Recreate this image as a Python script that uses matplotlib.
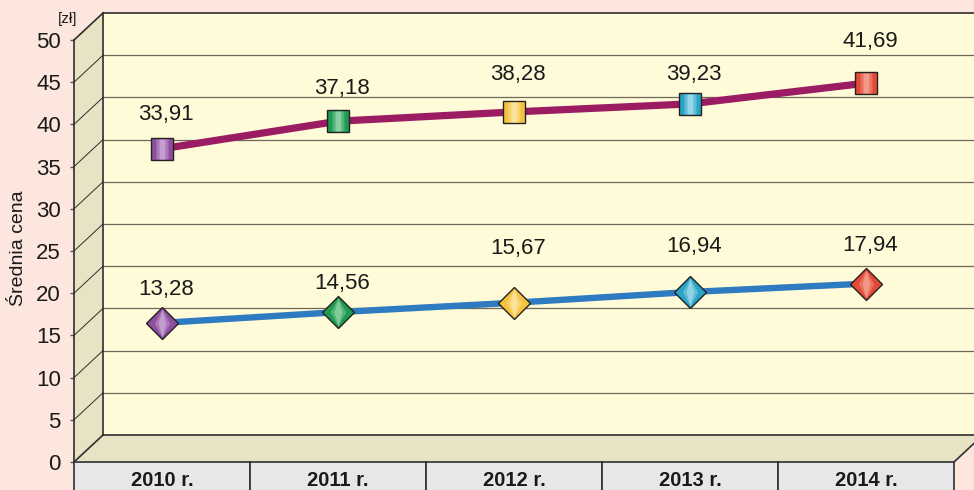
import matplotlib
matplotlib.use('Agg')
import matplotlib.pyplot as plt
from matplotlib.patches import Polygon, Rectangle
from matplotlib.path import Path

# --- data -------------------------------------------------------------
years = ['2010 r.', '2011 r.', '2012 r.', '2013 r.', '2014 r.']
price_upper = [33.91, 37.18, 38.28, 39.23, 41.69]
price_lower = [13.28, 14.56, 15.67, 16.94, 17.94]
y_ticks = [0, 5, 10, 15, 20, 25, 30, 35, 40, 45, 50]

# --- style ------------------------------------------------------------
BG = '#fde6dd'
WALL = '#fffad7'
SIDE = '#e8e3c4'
CELL = '#e6e7e8'
EDGE = '#2e2e2e'
GRID = '#6d6a5c'
C_UPPER = '#9c1c63'
C_LOWER = '#2f7bc1'
MARK = ['#8f4f9f', '#1e9a52', '#f5c23e', '#2aa3c6', '#e34a36']
MARK_LIGHT = ['#dcc0e6', '#b4e2c4', '#fff2c2', '#c0ebf5', '#f9bcae']

# depth of the pseudo-3D box, in data units (~29 px right, ~27 px up)
DX = 29 / 176
DY = 27 / 8.44

# label offsets above markers (pixels)
off_upper = [34, 33, 37, 29, 42]
off_lower = [33, 29, 54, 46, 38]


def stripe(w, diamond=False):
    if diamond:
        verts = [(0, 0.5), (w, 0), (0, -0.5), (-w, 0), (0, 0.5)]
    else:
        verts = [(-w, -0.5), (w, -0.5), (w, 0.5), (-w, 0.5), (-w, -0.5)]
    return Path(verts, [Path.MOVETO, Path.LINETO, Path.LINETO,
                        Path.LINETO, Path.CLOSEPOLY])


plt.rcParams['font.family'] = ['Liberation Sans', 'DejaVu Sans']

fig = plt.figure(figsize=(9.74, 4.9), dpi=100, facecolor=BG)
ax = fig.add_axes([74 / 974, 28 / 490, 880 / 974, 422 / 490])
ax.set_xlim(-0.5, 4.5)
ax.set_ylim(0, 50)
ax.patch.set_visible(False)
for s in ax.spines.values():
    s.set_visible(False)
ax.set_xticks([])
ax.set_yticks(y_ticks)
ax.set_yticklabels([str(t) for t in y_ticks])
ax.tick_params(axis='y', length=3, width=1, color='#555555', pad=6.5,
               labelsize=16, labelcolor='#1a1a1a')

x0, x1 = -0.5, 4.5
top = y_ticks[-1]

# back wall
ax.add_patch(Rectangle((x0 + DX, DY), x1 - x0, top, facecolor=WALL,
                       edgecolor='none', zorder=0, clip_on=False))
# side wall
ax.add_patch(Polygon([(x0, 0), (x0 + DX, DY), (x0 + DX, top + DY), (x0, top)],
                     closed=True, facecolor=SIDE, edgecolor='none',
                     zorder=0, clip_on=False))
# floor
ax.add_patch(Polygon([(x0, 0), (x0 + DX, DY), (x1 + DX, DY), (x1, 0)],
                     closed=True, facecolor=SIDE, edgecolor='none',
                     zorder=0, clip_on=False))

# gridlines on back wall + side wall
for t in y_ticks[1:-1]:
    ax.plot([x0 + DX, x1 + DX], [t + DY, t + DY], color=GRID, lw=0.9,
            zorder=1, clip_on=False)
    ax.plot([x0, x0 + DX], [t, t + DY], color=EDGE, lw=0.7,
            zorder=1, clip_on=False)

# box edges
edge_kw = dict(color=EDGE, lw=1.2, zorder=2, clip_on=False)
ax.plot([x0 + DX, x1 + DX + 0.5], [top + DY, top + DY], **edge_kw)
ax.plot([x0 + DX, x1 + DX], [DY, DY], **edge_kw)
ax.plot([x0 + DX, x0 + DX], [DY, top + DY], **edge_kw)
ax.plot([x0, x0], [0, top], **edge_kw)
ax.plot([x0, x0 + DX], [top, top + DY], **edge_kw)
ax.plot([x0, x0 + DX], [0, DY], **edge_kw)
ax.plot([x1, x1 + DX], [0, DY], **edge_kw)

# category cells below the floor
for i, lab in enumerate(years):
    ax.add_patch(Rectangle((i - 0.5, -5), 1, 5, facecolor=CELL,
                           edgecolor=EDGE, lw=1.2, zorder=2, clip_on=False))
    ax.text(i, -2.8, lab, ha='center', va='baseline', fontsize=14.5,
            fontweight='bold', color='#1a1a1a', clip_on=False)

# lines
xs = list(range(len(years)))
ax.plot(xs, [v + DY for v in price_upper], color=C_UPPER, lw=5.2,
        solid_capstyle='butt', zorder=3, clip_on=False)
ax.plot(xs, [v + DY for v in price_lower], color=C_LOWER, lw=4.6,
        solid_capstyle='butt', zorder=3, clip_on=False)

for i in xs:
    yu = price_upper[i] + DY
    yl = price_lower[i] + DY
    # squares with a soft vertical highlight
    ax.plot(i, yu, marker='s', ms=15.5, mfc=MARK[i], mec='#222222',
            mew=1.0, zorder=4, clip_on=False)
    ax.plot(i, yu, marker=stripe(0.3), ms=14.5, mfc=MARK_LIGHT[i], mec='none',
            alpha=0.35, zorder=5, clip_on=False)
    ax.plot(i, yu, marker=stripe(0.14), ms=14.5, mfc=MARK_LIGHT[i], mec='none',
            alpha=0.55, zorder=5, clip_on=False)
    # diamonds with a soft highlight
    ax.plot(i, yl, marker='D', ms=16, mfc=MARK[i], mec='#222222',
            mew=1.0, zorder=4, clip_on=False)
    ax.plot(i, yl, marker=stripe(0.28, True), ms=20, mfc=MARK_LIGHT[i],
            mec='none', alpha=0.35, zorder=5, clip_on=False)
    ax.plot(i, yl, marker=stripe(0.14, True), ms=20, mfc=MARK_LIGHT[i],
            mec='none', alpha=0.5, zorder=5, clip_on=False)

    ax.annotate(f'{price_upper[i]:.2f}'.replace('.', ','), (i, yu),
                xytext=(4, off_upper[i]), textcoords='offset pixels',
                ha='center', va='center', fontsize=16, color='#1a1a1a',
                zorder=6, annotation_clip=False)
    ax.annotate(f'{price_lower[i]:.2f}'.replace('.', ','), (i, yl),
                xytext=(4, off_lower[i]), textcoords='offset pixels',
                ha='center', va='center', fontsize=16, color='#1a1a1a',
                zorder=6, annotation_clip=False)

fig.text(68 / 974, 1 - 19 / 490, '[zł]', ha='center', va='center',
         fontsize=11, color='#1a1a1a')
fig.text(19 / 974, 1 - 248 / 490, 'Średnia cena', rotation=90,
         ha='center', va='center', fontsize=14, color='#1a1a1a')

fig.savefig('out.png', dpi=100, facecolor=BG)
